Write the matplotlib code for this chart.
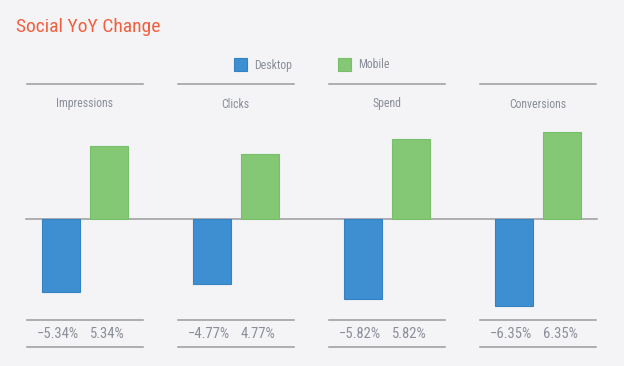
import matplotlib
matplotlib.use("Agg")
import matplotlib.pyplot as plt
from matplotlib.patches import Rectangle

categories = ["Impressions", "Clicks", "Spend", "Conversions"]
desktop = [-5.34, -4.77, -5.82, -6.35]
mobile = [5.34, 4.77, 5.82, 6.35]
desktop_labels = ["\u22125.34%", "\u22124.77%", "\u22125.82%", "\u22126.35%"]
mobile_labels = ["5.34%", "4.77%", "5.82%", "6.35%"]
series_names = ["Desktop", "Mobile"]

FONT = ["Roboto Condensed", "Open Sans Condensed", "Liberation Sans Narrow", "Roboto"]
plt.rcParams["font.family"] = FONT

BG = "#f4f4f6"
BLUE = "#3d8fd1"
BLUE_EDGE = "#3383c4"
GREEN = "#84c775"
GREEN_EDGE = "#78bf69"
LINE = "#9a9a9e"
TEXT = "#8a8e99"

W, H = 624, 366
fig = plt.figure(figsize=(W / 100, H / 100), dpi=100, facecolor=BG)
ax = fig.add_axes([0, 0, 1, 1])
ax.set_facecolor(BG)
ax.axis("off")

sx = 151.0
sy = 13.7
ax.set_xlim(-84.5 / sx, (W - 84.5) / sx)
ax.set_ylim(-(H - 219) / sy, 219 / sy)

def px_y(p):
    return (219 - p) / sy

def px_x(p):
    return (p - 84.5) / sx

off = 24 / sx
bw = 38 / sx
xs = list(range(len(categories)))

ax.plot([px_x(26), px_x(597)], [0, 0], color=LINE, lw=1.1, zorder=1)

ax.bar([x - off for x in xs], desktop, width=bw, color=BLUE, edgecolor=BLUE_EDGE, lw=0.8, zorder=2)
ax.bar([x + off for x in xs], mobile, width=bw, color=GREEN, edgecolor=GREEN_EDGE, lw=0.8, zorder=2)

half = 58 / sx
for i, cat in enumerate(categories):
    for yp in (84, 320, 347):
        ax.plot([i - half, i + half], [px_y(yp), px_y(yp)], color=LINE, lw=1.1, zorder=1)
    ax.text(i, px_y(104), cat, ha="center", va="center", fontsize=8.5, color=TEXT)
    ax.text(i - 0.035, px_y(334.5), desktop_labels[i], ha="right", va="center", fontsize=10.5, color=TEXT)
    ax.text(i + 0.035, px_y(334.5), mobile_labels[i], ha="left", va="center", fontsize=10.5, color=TEXT)

fig.text(16 / W, 1 - 27 / H, "Social YoY Change", fontsize=14, color="#f0603f", ha="left", va="center")

for name, color, edge, lx in [(series_names[0], BLUE, BLUE_EDGE, 234), (series_names[1], GREEN, GREEN_EDGE, 338)]:
    fig.patches.append(Rectangle((lx / W, 1 - 71 / H), 13 / W, 13 / H, transform=fig.transFigure,
                                 facecolor=color, edgecolor=edge, lw=0.8))
    fig.text((lx + 20) / W, 1 - 65 / H, name, fontsize=8.5, color=TEXT, ha="left", va="center")

fig.savefig("out.png", dpi=100, facecolor=BG)
